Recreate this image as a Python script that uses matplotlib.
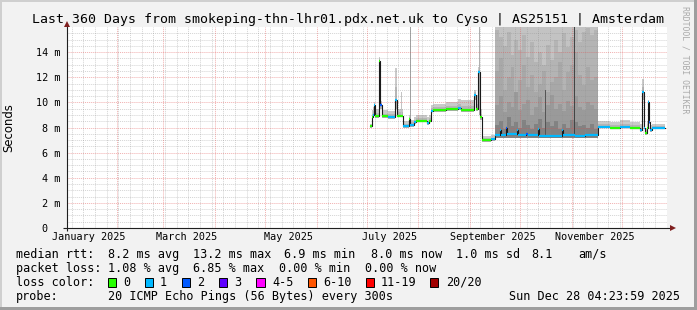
import matplotlib
matplotlib.use("Agg")
import matplotlib.pyplot as plt
from matplotlib.patches import Rectangle
import numpy as np
import pandas as pd

# ------------------------------------------------------------------ data
TITLE = "Last 360 Days from smokeping-thn-lhr01.pdx.net.uk to Cyso | AS25151 | Amsterdam"
RANGE_START = "2025-01-02 04:23:59"
RANGE_END = "2025-12-28 04:23:59"

# median rtt (ms) as steps: each value holds from its start until the next start
seg_start = [
    "2025-07-02 19:00", "2025-07-04 00:00", "2025-07-04 14:00", "2025-07-05 05:00",
    "2025-07-05 19:00", "2025-07-08 05:00", "2025-07-09 02:00", "2025-07-10 00:00",
    "2025-07-13 14:00", "2025-07-17 19:00", "2025-07-19 00:00", "2025-07-22 14:00",
    "2025-07-26 05:00", "2025-07-26 19:00", "2025-07-29 05:00", "2025-07-30 10:00",
    "2025-08-06 00:00", "2025-08-07 05:00", "2025-08-08 10:00", "2025-08-09 14:00",
    "2025-08-17 10:00", "2025-08-24 14:00", "2025-08-26 10:00", "2025-09-03 05:00",
    "2025-09-04 10:00", "2025-09-05 14:00", "2025-09-06 19:00", "2025-09-08 00:00",
    "2025-09-13 10:00", "2025-09-15 19:00", "2025-09-18 19:00", "2025-09-19 10:00",
    "2025-09-22 10:00", "2025-09-23 00:00", "2025-09-29 00:00", "2025-09-29 14:00",
    "2025-10-04 10:00", "2025-10-05 14:00", "2025-10-11 14:00", "2025-10-12 05:00",
    "2025-10-20 00:00", "2025-10-26 00:00", "2025-10-26 14:00", "2025-11-02 19:00",
    "2025-11-08 19:00", "2025-11-16 14:00", "2025-11-23 19:00", "2025-11-29 19:00",
    "2025-12-05 19:00", "2025-12-11 19:00", "2025-12-13 00:00", "2025-12-14 05:00",
    "2025-12-14 19:00", "2025-12-16 00:00", "2025-12-16 14:00", "2025-12-17 05:00",
    "2025-12-17 19:00", "2025-12-19 00:00",
]
SEG_END = "2025-12-26 19:00"
seg_median = [
    8.10, 8.80, 9.00, 9.80, 8.90, 13.30, 9.80, 8.90, 8.85, 10.20, 8.95, 8.15,
    8.70, 8.20, 8.40, 8.55, 8.35, 8.55, 9.35, 9.40, 9.45, 9.55, 9.40, 10.60,
    9.50, 12.40, 8.80, 7.00, 7.05, 7.40, 7.80, 7.40, 8.00, 7.45, 7.80, 7.40,
    7.50, 7.40, 7.90, 7.30, 7.35, 7.80, 7.40, 7.30, 7.40, 8.05, 8.00, 8.05,
    8.00, 7.80, 10.80, 8.00, 7.55, 8.00, 10.00, 8.45, 7.80, 7.95,
]
# loss bucket index per step (0 -> "0", 1 -> "1", 2 -> "2")
seg_loss = [
    0, 0, 1, 1, 0, 0, 2, 0, 1, 1, 0, 1,
    0, 1, 1, 0, 1, 0, 1, 0, 0, 1, 0, 1,
    0, 1, 0, 0, 1, 1, 1, 1, 2, 1, 1, 1,
    2, 1, 1, 1, 1, 1, 1, 1, 1, 1, 0, 1,
    0, 1, 1, 1, 0, 0, 1, 2, 1, 1,
]
# smoke (spread of the 20 pings) around the median
seg_smoke_min = [
    8.00, 8.65, 8.85, 9.60, 8.75, 12.80, 9.50, 8.75, 8.70, 9.50, 8.80, 8.00,
    8.50, 8.05, 8.25, 8.40, 8.20, 8.40, 9.20, 9.25, 9.30, 9.40, 9.25, 10.20,
    9.35, 11.50, 8.60, 6.85, 6.90, 7.20, 7.20, 7.20, 7.20, 7.20, 7.20, 7.20,
    7.20, 7.20, 7.20, 7.15, 7.15, 7.20, 7.20, 7.15, 7.20, 7.95, 7.90, 7.95,
    7.90, 7.65, 10.20, 7.85, 7.40, 7.85, 9.60, 8.30, 7.65, 7.85,
]
seg_smoke_mid = [
    8.20, 9.05, 9.30, 9.90, 9.15, 13.45, 9.95, 9.10, 9.05, 11.20, 9.20, 8.30,
    8.85, 8.40, 8.60, 8.75, 8.55, 8.75, 9.55, 9.60, 9.70, 9.85, 9.75, 10.80,
    9.90, 12.60, 9.10, 7.15, 7.20, 7.60, 7.90, 7.60, 8.10, 7.65, 7.90, 7.60,
    7.70, 7.60, 8.00, 7.50, 7.55, 7.90, 7.60, 7.50, 7.60, 8.25, 8.20, 8.30,
    8.20, 8.00, 11.20, 8.30, 7.80, 8.25, 10.10, 8.60, 8.00, 8.15,
]
seg_smoke_max = [
    8.30, 9.40, 9.60, 10.00, 9.50, 13.60, 10.10, 9.40, 9.30, 12.70, 9.50, 8.50,
    9.00, 8.60, 8.80, 9.00, 8.80, 9.00, 9.80, 9.90, 10.00, 10.30, 10.20, 11.00,
    10.60, 12.80, 9.50, 7.30, 7.40, 16.50, 16.50, 16.50, 16.50, 16.50, 16.50, 16.50,
    16.50, 16.50, 16.50, 16.50, 16.50, 16.50, 16.50, 16.50, 16.50, 8.50, 8.40, 8.60,
    8.40, 8.30, 11.90, 8.60, 8.00, 8.50, 10.20, 8.70, 8.20, 8.30,
]

# very noisy period (Sep 15 - Nov 16): inner smoke layers, one value per column
HEAVY_START = "2025-09-15 19:00"
HEAVY_END = "2025-11-16 14:00"
HEAVY_FLOOR = 7.2
HEAVY_OUTER = 16.5
heavy_layer1 = [15.8, 15.2, 14.5, 15.6, 13.8, 15.0, 14.2, 15.4, 13.6, 14.8, 13.2, 14.0, 13.0,
                14.6, 13.4, 15.0, 14.0, 15.5, 14.4, 15.2, 15.8, 14.8, 15.6, 15.9, 15.4, 15.8]
heavy_layer2 = [12.5, 13.5, 11.0, 12.0, 12.8, 10.5, 11.8, 13.0, 11.2, 12.2, 10.8, 11.5, 12.5,
                10.8, 11.6, 12.0, 13.2, 11.0, 12.4, 13.0, 14.0, 12.2, 11.4, 12.8, 11.8, 12.0]
heavy_layer3 = [9.8, 10.5, 9.2, 10.0, 9.6, 10.8, 9.4, 9.9, 10.2, 9.0, 9.6, 10.4, 9.2,
                9.8, 10.6, 9.5, 9.9, 9.3, 10.1, 9.7, 10.5, 9.6, 9.4, 10.0, 9.8, 9.5]
heavy_layer4 = [8.2, 8.5, 7.9, 8.8, 8.1, 8.4, 8.0, 8.6, 8.2, 7.9, 8.3, 8.7, 8.0,
                8.4, 8.1, 8.5, 7.9, 8.3, 8.0, 8.6, 8.4, 8.1, 8.2, 8.0, 8.3, 7.9]
heavy_shades = ["#C3C3C3", "#B4B4B4", "#A8A8A8", "#9A9A9A", "#828282"]

# isolated thin smoke spikes
spike_start = ["2025-07-26 19:00", "2025-07-21 10:00", "2025-09-06 06:00",
               "2025-10-16 00:00", "2025-11-02 06:00"]
spike_end = ["2025-07-27 07:00", "2025-07-22 05:00", "2025-09-06 19:00",
             "2025-10-16 14:00", "2025-11-03 06:00"]
spike_low = [8.3, 9.0, 9.0, 7.4, 7.4]
spike_high = [16.5, 10.8, 16.5, 11.0, 16.5]
spike_shade = ["#A6A6A6", "#C4C4C4", "#B0B0B0", "#555555", "#444444"]

y_ticks = [0, 2, 4, 6, 8, 10, 12, 14]
y_tick_labels = ["0  ", "2 m", "4 m", "6 m", "8 m", "10 m", "12 m", "14 m"]
x_label_dates = ["2025-01-15", "2025-03-15", "2025-05-15", "2025-07-15",
                 "2025-09-15", "2025-11-15"]
x_labels = ["January 2025", "March 2025", "May 2025", "July 2025",
            "September 2025", "November 2025"]

loss_labels = ["0", "1", "2", "3", "4-5", "6-10", "11-19", "20/20"]
loss_colors = ["#26FF00", "#00B8FF", "#0059FF", "#5E00FF", "#FF00FF",
               "#FF5500", "#FF0000", "#A10000"]

row_median = ["median rtt:", "8.2 ms avg", "13.2 ms max", "6.9 ms min",
              "8.0 ms now", "1.0 ms sd", "8.1", "am/s"]
row_loss = ["packet loss:", "1.08 % avg", "6.85 % max", "0.00 % min", "0.00 % now"]
row_probe = ["probe:", "20 ICMP Echo Pings (56 Bytes) every 300s"]
STAMP = "Sun Dec 28 04:23:59 2025"
WATERMARK = "RRDTOOL / TOBI OETIKER"

# ------------------------------------------------------------------ layout
W, H = 697, 310
MONO = "DejaVu Sans Mono"


def fx(px):
    return px / W


def fy(py):
    return 1 - py / H


fig = plt.figure(figsize=(W / 100, H / 100), dpi=100, facecolor="#F2F2F2")
# rrdtool style 3D frame
fig.patches.append(Rectangle((0, fy(2)), 1, 2 / H, transform=fig.transFigure,
                             color="#CFCFCF", lw=0))
fig.patches.append(Rectangle((0, 0), 2 / W, 1, transform=fig.transFigure,
                             color="#CFCFCF", lw=0))
fig.patches.append(Rectangle((0, 0), 1, 3 / H, transform=fig.transFigure,
                             color="#9E9E9E", lw=0))
fig.patches.append(Rectangle((fx(694), 0), 3 / W, 1, transform=fig.transFigure,
                             color="#9E9E9E", lw=0))

ax = fig.add_axes([fx(67), fy(228), 600 / W, 201 / H])
ax.set_facecolor("white")
t0, t1 = pd.Timestamp(RANGE_START), pd.Timestamp(RANGE_END)
ax.set_xlim(t0, t1)
ax.set_ylim(0, 16)
for s in ax.spines.values():
    s.set_visible(False)


def stepvals(v):
    v = np.asarray(v, dtype=float)
    return np.r_[v, v[-1]]


edges = pd.to_datetime(seg_start + [SEG_END])

# smoke
ax.fill_between(edges, stepvals(seg_smoke_min), stepvals(seg_smoke_max), step="post",
                color="#CACACA", lw=0, zorder=1)
ax.fill_between(edges, stepvals(seg_smoke_min), stepvals(seg_smoke_mid), step="post",
                color="#B5B5B5", lw=0, zorder=1.1)
hedges = pd.date_range(HEAVY_START, HEAVY_END, periods=len(heavy_layer1) + 1)
ax.fill_between(hedges[[0, -1]], HEAVY_FLOOR, HEAVY_OUTER, color=heavy_shades[0],
                lw=0, zorder=1.15)
for k, (layer, shade) in enumerate(zip([heavy_layer1, heavy_layer2, heavy_layer3,
                                        heavy_layer4], heavy_shades[1:])):
    ax.fill_between(hedges, HEAVY_FLOOR, stepvals(layer), step="post", color=shade,
                    lw=0, zorder=1.2 + 0.1 * k)
for s0, s1, lo, hi, c in zip(spike_start, spike_end, spike_low, spike_high, spike_shade):
    ax.fill_between(pd.to_datetime([s0, s1]), lo, hi, color=c, lw=0, zorder=1.8)

# grid
grid_minor = dict(color="#8F8F8F", alpha=0.38, lw=0.7, ls=(0, (1, 1)), zorder=2)
grid_major = dict(color="#E05050", alpha=0.45, lw=0.7, ls=(0, (1, 1)), zorder=2.1)
months = pd.date_range("2025-01-01", "2026-01-01", freq="MS")
months = months[(months > t0) & (months < t1)]
weeks = pd.date_range("2024-12-29", "2026-01-04", freq="W-SUN")
weeks = weeks[(weeks > t0) & (weeks < t1) & (~weeks.isin(months))]
for d in weeks:
    ax.axvline(d, **grid_minor)
for v in np.arange(0.5, 16.01, 0.5):
    if v % 2 != 0:
        ax.axhline(v, **grid_minor)
for d in months:
    ax.axvline(d, **grid_major)
for v in y_ticks[1:]:
    ax.axhline(v, **grid_major)

# median line + loss colour
med = stepvals(seg_median)
ax.step(edges, med, where="post", color="#1A1A1A", lw=0.8, zorder=3)
ax.hlines(seg_median, edges[:-1], edges[1:], colors=[loss_colors[i] for i in seg_loss],
          lw=1.6, zorder=3.2)

# axes lines and arrows
axis_col, arrow_col = "#1F1F1F", "#7F1F1F"
ax.plot([-4 / 600, 1 + 4 / 600], [0, 0], transform=ax.transAxes, color=axis_col,
        lw=0.8, clip_on=False, zorder=5, solid_capstyle="butt")
ax.plot([0, 0], [-3 / 201, 1 + 2 / 201], transform=ax.transAxes, color=axis_col,
        lw=0.8, clip_on=False, zorder=5, solid_capstyle="butt")
ax.plot([1 + 6 / 600], [0], transform=ax.transAxes, marker=">", ms=4.2, color=arrow_col,
        clip_on=False, zorder=6, mew=0)
ax.plot([0], [1 + 3 / 201], transform=ax.transAxes, marker="^", ms=4.2, color=arrow_col,
        clip_on=False, zorder=6, mew=0)

# ticks
ax.set_yticks(y_ticks)
ax.set_yticklabels(y_tick_labels, family=MONO, fontsize=7.3)
ax.set_xticks(pd.to_datetime(x_label_dates))
ax.set_xticklabels(x_labels, family=MONO, fontsize=7.3)
ax.tick_params(axis="y", length=0, pad=4.8)
ax.tick_params(axis="x", length=0, pad=3.2)
ax.minorticks_off()

# texts
fig.text(fx(348.5), fy(23.3), TITLE, family=MONO, fontsize=9.55, ha="center",
         va="baseline")
fig.text(fx(9), fy(127.5), "Seconds", family="DejaVu Sans", fontsize=8.4, rotation=90,
         ha="center", va="center")
fig.text(fx(685), fy(60), WATERMARK, family=MONO, fontsize=5.9, rotation=-90,
         ha="center", va="center", color="#AAAAAA")

LEG = 8.45
x_med = [16, 107.6, 193.3, 284.4, 371.1, 455.5, 531.0, 577.8]
for s, x in zip(row_median, x_med):
    fig.text(fx(x), fy(257.7), s, family=MONO, fontsize=LEG, va="baseline")
x_loss = [16, 107.6, 193.3, 279.0, 364.9]
for s, x in zip(row_loss, x_loss):
    fig.text(fx(x), fy(271.7), s, family=MONO, fontsize=LEG, va="baseline")
fig.text(fx(16), fy(285.7), "loss color:", family=MONO, fontsize=LEG, va="baseline")
box_x = [108, 145, 182, 219, 256.4, 308, 365.8, 430]
lab_x = [123.6, 160, 197, 233.8, 272, 323, 381, 445.8]
for bx, lx, lab, col in zip(box_x, lab_x, loss_labels, loss_colors):
    fig.patches.append(Rectangle((fx(bx), fy(286.6)), 8.3 / W, 8.3 / H,
                                 transform=fig.transFigure, facecolor=col,
                                 edgecolor="black", lw=0.7))
    fig.text(fx(lx), fy(285.7), lab, family=MONO, fontsize=LEG, va="baseline")
for s, x in zip(row_probe, [16, 107.6]):
    fig.text(fx(x), fy(299.7), s, family=MONO, fontsize=LEG, va="baseline")
fig.text(fx(680), fy(299.7), STAMP, family=MONO, fontsize=LEG, va="baseline", ha="right")

fig.savefig("out.png", dpi=100, facecolor=fig.get_facecolor())
